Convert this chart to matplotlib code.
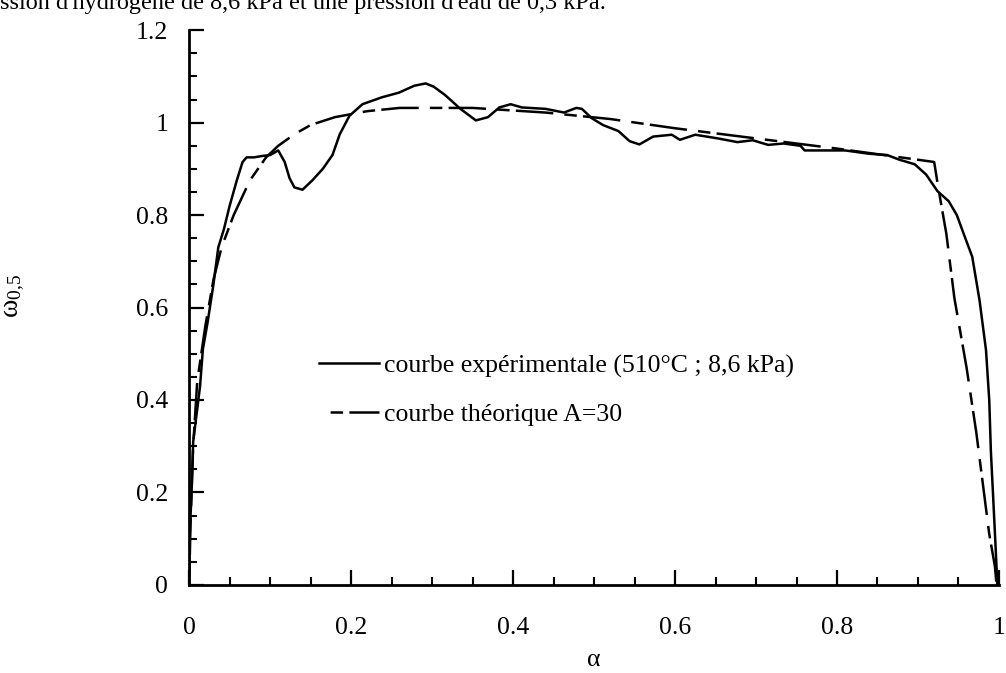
import matplotlib
matplotlib.use("Agg")
import matplotlib.pyplot as plt
from matplotlib.ticker import MultipleLocator, FuncFormatter

plt.rcParams['font.family'] = ['Liberation Serif', 'DejaVu Serif']
plt.rcParams['mathtext.fontset'] = 'custom'
plt.rcParams['mathtext.rm'] = 'Liberation Serif'
plt.rcParams['mathtext.default'] = 'regular'
plt.rcParams['lines.scale_dashes'] = False

# courbe expérimentale (510°C ; 8,6 kPa)
alpha_exp = [0, 0.0005, 0.003, 0.005, 0.01, 0.0135, 0.017, 0.023, 0.03, 0.036,
             0.043, 0.05, 0.059, 0.066, 0.071, 0.08, 0.09, 0.1, 0.11, 0.118,
             0.124, 0.13, 0.14, 0.152, 0.165, 0.177, 0.186, 0.198, 0.214, 0.238,
             0.259, 0.278, 0.292, 0.302, 0.316, 0.335, 0.354, 0.369, 0.383, 0.397,
             0.411, 0.44, 0.463, 0.478, 0.485, 0.497, 0.511, 0.53, 0.544, 0.556,
             0.573, 0.596, 0.606, 0.625, 0.653, 0.677, 0.696, 0.715, 0.734, 0.755,
             0.76, 0.782, 0.81, 0.839, 0.862, 0.877, 0.896, 0.91, 0.924, 0.938,
             0.948, 0.957, 0.967, 0.976, 0.984, 0.988, 0.99, 0.993, 0.996, 0.998]
omega_exp = [0, 0.1, 0.2, 0.31, 0.38, 0.43, 0.51, 0.57, 0.65, 0.73,
             0.77, 0.82, 0.876, 0.915, 0.925, 0.925, 0.928, 0.93, 0.94, 0.915,
             0.88, 0.86, 0.855, 0.875, 0.9, 0.93, 0.975, 1.015, 1.04, 1.055,
             1.065, 1.08, 1.085, 1.078, 1.06, 1.03, 1.005, 1.012, 1.033, 1.04,
             1.033, 1.03, 1.022, 1.032, 1.03, 1.01, 0.995, 0.982, 0.96, 0.953,
             0.97, 0.974, 0.963, 0.974, 0.966, 0.958, 0.962, 0.952, 0.955, 0.95,
             0.94, 0.94, 0.94, 0.933, 0.93, 0.92, 0.91, 0.888, 0.852, 0.83,
             0.8, 0.757, 0.71, 0.616, 0.508, 0.40, 0.29, 0.184, 0.076, 0.0]

# courbe théorique A=30
alpha_th = [0, 0.002, 0.005, 0.01, 0.02, 0.03, 0.04, 0.055, 0.075, 0.095,
            0.11, 0.13, 0.15, 0.18, 0.22, 0.26, 0.35, 0.44, 0.52, 0.6,
            0.7, 0.8, 0.92, 0.925, 0.935, 0.945, 0.96, 0.972, 0.98, 0.988,
            0.995, 0.997]
omega_th = [0, 0.15, 0.3, 0.44, 0.56, 0.66, 0.73, 0.80, 0.875, 0.925,
            0.95, 0.975, 0.995, 1.012, 1.025, 1.032, 1.032, 1.022, 1.008, 0.988,
            0.966, 0.944, 0.915, 0.86, 0.76, 0.62, 0.47, 0.33, 0.22, 0.11,
            0.04, 0.0]

fig = plt.figure(figsize=(10.06, 6.73), dpi=100)
ax = fig.add_axes([0.188, 0.131, 0.805, 0.824])

ax.plot(alpha_exp, omega_exp, color='black', lw=1.8,
        label='courbe expérimentale (510°C ; 8,6 kPa)')
ax.plot(alpha_th, omega_th, color='black', lw=1.8,
        linestyle=(27, (27, 8, 9, 4.5)), label='courbe théorique A=30')

ax.set_xlim(0, 1)
ax.set_ylim(0, 1.2)
ax.spines['top'].set_visible(False)
ax.spines['right'].set_visible(False)
for s in ['left', 'bottom']:
    ax.spines[s].set_linewidth(2)

fmt = FuncFormatter(lambda v, pos: f'{v:g}')
ax.xaxis.set_major_locator(MultipleLocator(0.2))
ax.xaxis.set_minor_locator(MultipleLocator(0.05))
ax.yaxis.set_major_locator(MultipleLocator(0.2))
ax.yaxis.set_minor_locator(MultipleLocator(0.05))
ax.xaxis.set_major_formatter(fmt)
ax.yaxis.set_major_formatter(fmt)
ax.tick_params(axis='both', which='major', direction='in', length=11, width=1.6,
               labelsize=18.5)
ax.tick_params(axis='both', which='minor', direction='in', length=6, width=1.5)
ax.tick_params(axis='x', which='major', pad=23)
ax.tick_params(axis='y', which='major', pad=15)

ax.set_xlabel('α', fontsize=18.5, labelpad=7)
ax.set_ylabel(r'$\omega_{0{,}5}$', fontsize=20)
ax.yaxis.set_label_coords(-0.2, 0.52)

ax.legend(loc='upper left', bbox_to_anchor=(0.16, 0.416), frameon=False,
          borderpad=0, borderaxespad=0, handlelength=2.34, handletextpad=0.2,
          labelspacing=0.98, fontsize=18.5)

fig.text(0.0, 1 - 9 / 673, "ssion d'hydrogène de 8,6 kPa et une pression d'eau de 0,3 kPa.",
         fontsize=17.5, va='baseline', ha='left')

fig.savefig('out.png', dpi=100)
